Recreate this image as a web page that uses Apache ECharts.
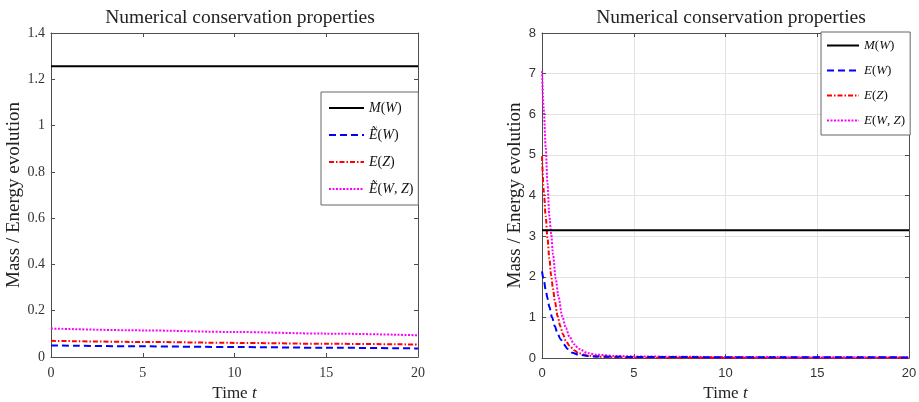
<!DOCTYPE html>
<html><head><meta charset="utf-8">
<script src="https://cdn.jsdelivr.net/npm/echarts@6/dist/echarts.min.js"></script>
<style>html,body{margin:0;padding:0;background:#fff}#c{width:919px;height:402px}</style>
</head><body><div id="c"></div>
<script>
// ---------- data ----------
const titleText = 'Numerical conservation properties';
const yName = 'Mass / Energy evolution';

// Left panel
const leftT    = [0, 5, 10, 15, 20];
const leftMass = [1.2566, 1.2566, 1.2566, 1.2566, 1.2566];
const leftEW   = [0.050, 0.046, 0.043, 0.040, 0.037];
const leftEZ   = [0.070, 0.065, 0.061, 0.057, 0.054];
const leftEWZ  = [0.123, 0.115, 0.108, 0.101, 0.094];
const leftLabels = ['{i|M}({i|W})', '{i|Ẽ}({i|W})', '{i|E}({i|Z})', '{i|Ẽ}({i|W}, {i|Z})'];

// Right panel
const rightMassT = [0, 20];
const rightMass  = [3.1416, 3.1416];
const rightEWT = [0, 0.1, 0.2, 0.3, 0.4, 0.55, 0.7, 0.85, 1.0, 1.2, 1.4, 1.65, 2.0, 2.5, 3, 4, 5, 10, 20];
const rightEW  = [2.13, 1.92, 1.68, 1.47, 1.26, 1.0, 0.78, 0.6, 0.47, 0.33, 0.22, 0.13, 0.08, 0.05, 0.04, 0.03, 0.025, 0.02, 0.015];
const rightEZT = [0, 0.1, 0.2, 0.3, 0.4, 0.5, 0.6, 0.7, 0.85, 1.0, 1.15, 1.3, 1.5, 1.75, 2.0, 2.5, 3, 4, 5, 10, 20];
const rightEZ  = [4.97, 4.1, 3.5, 2.95, 2.45, 2.03, 1.7, 1.4, 1.03, 0.78, 0.58, 0.42, 0.3, 0.19, 0.12, 0.06, 0.035, 0.015, 0.01, 0.005, 0.005];
const rightEWZT = [0, 0.1, 0.2, 0.3, 0.4, 0.5, 0.6, 0.75, 0.9, 1.1, 1.3, 1.5, 1.75, 2.0, 2.5, 3, 4, 5, 7.5, 10, 15, 20];
const rightEWZ  = [7.06, 6.1, 5.2, 4.3, 3.5, 3.05, 2.55, 1.95, 1.5, 1.03, 0.74, 0.52, 0.34, 0.23, 0.12, 0.08, 0.05, 0.04, 0.03, 0.025, 0.02, 0.02];
const rightLabels = ['{i|M}({i|W})', '{i|E}({i|W})', '{i|E}({i|Z})', '{i|E}({i|W}, {i|Z})'];

// ---------- helpers ----------
const zip = (t, v) => t.map((x, i) => [x, v[i]]);
const SERIF = 'Liberation Serif';
const SANS = 'Liberation Sans';
const AX = '#4d4d4d';
const styles = [
  {color: '#000000', type: 'solid'},
  {color: '#0000ff', type: [7, 4]},
  {color: '#ff0000', type: [5, 2, 1.5, 2]},
  {color: '#ff00ff', type: [2, 1.5]}
];
function mk(name, data, k, xi, yi) {
  return {
    name, type: 'line', data, xAxisIndex: xi, yAxisIndex: yi,
    showSymbol: false, symbol: 'circle', smooth: 0.3, smoothMonotone: 'x',
    lineStyle: {width: 2, color: styles[k].color, type: styles[k].type},
    itemStyle: {color: styles[k].color}, z: 3 + (3 - k)
  };
}
const richI = (size) => ({i: {fontFamily: SERIF, fontStyle: 'italic', fontSize: size, color: '#111'}});

function mainX(grid, labelFont, labelSize, split) {
  return {
    type: 'value', gridIndex: grid, min: 0, max: 20, interval: 5, position: 'bottom',
    name: 'Time {i|t}', nameLocation: 'middle', nameGap: 27,
    nameTextStyle: {fontFamily: SERIF, fontSize: 17, color: '#222', rich: {i: {fontFamily: SERIF, fontStyle: 'italic', fontSize: 17, color: '#222'}}},
    axisLine: {show: true, lineStyle: {color: AX, width: 1}},
    axisTick: {show: true, inside: true, length: 4, lineStyle: {color: AX}},
    axisLabel: {fontFamily: labelFont, fontSize: labelSize, color: '#333', margin: 9},
    splitLine: {show: split, lineStyle: {color: '#e3e3e3', width: 1}}
  };
}
function mainY(grid, max, interval, labelFont, labelSize, split, gap) {
  return {
    type: 'value', gridIndex: grid, min: 0, max, interval, position: 'left',
    name: yName, nameLocation: 'middle', nameGap: gap,
    nameTextStyle: {fontFamily: SERIF, fontSize: 19, color: '#222'},
    axisLine: {show: true, lineStyle: {color: AX, width: 1}},
    axisTick: {show: true, inside: true, length: 4, lineStyle: {color: AX}},
    axisLabel: {fontFamily: labelFont, fontSize: labelSize, color: '#333', margin: 6},
    splitLine: {show: split, lineStyle: {color: '#e3e3e3', width: 1}}
  };
}
function mirrorX(grid) {
  return {type: 'value', gridIndex: grid, min: 0, max: 20, interval: 5, position: 'top',
    axisLine: {show: true, onZero: false, lineStyle: {color: AX, width: 1}},
    axisTick: {show: true, inside: true, length: 4, lineStyle: {color: AX}},
    axisLabel: {show: false}, splitLine: {show: false}};
}
function mirrorY(grid, max, interval) {
  return {type: 'value', gridIndex: grid, min: 0, max, interval, position: 'right',
    axisLine: {show: true, onZero: false, lineStyle: {color: AX, width: 1}},
    axisTick: {show: true, inside: true, length: 4, lineStyle: {color: AX}},
    axisLabel: {show: false}, splitLine: {show: false}};
}

const chart = echarts.init(document.getElementById('c'), null, {renderer: 'canvas'});
chart.setOption({
  backgroundColor: '#ffffff',
  animation: false,
  title: [
    {text: titleText, left: 235, top: 3, textAlign: 'center',
     textStyle: {fontFamily: SERIF, fontSize: 19.5, fontWeight: 'normal', color: '#222'}},
    {text: titleText, left: 726, top: 3, textAlign: 'center',
     textStyle: {fontFamily: SERIF, fontSize: 19.5, fontWeight: 'normal', color: '#222'}}
  ],
  grid: [
    {left: 51, right: 501, top: 33, bottom: 45, containLabel: false, outerBoundsMode: 'none'},
    {left: 542, right: 10, top: 33, bottom: 44, containLabel: false, outerBoundsMode: 'none'}
  ],
  xAxis: [mainX(0, SERIF, 14, false), mainX(1, SANS, 13, true), mirrorX(0), mirrorX(1)],
  yAxis: [mainY(0, 1.4, 0.2, SERIF, 14, false, 24), mainY(1, 8, 1, SANS, 13, true, 16), mirrorY(0, 1.4, 0.2), mirrorY(1, 8, 1)],
  legend: [
    {data: ['a1', 'a2', 'a3', 'a4'], orient: 'vertical', left: 321, top: 92,
     itemWidth: 35, itemHeight: 14, itemGap: 13, padding: [9, 5, 9, 7],
     backgroundColor: '#fff', borderColor: '#666', borderWidth: 1, borderRadius: 0,
     itemStyle: {opacity: 0},
     formatter: n => leftLabels[Number(n[1]) - 1],
     textStyle: {fontFamily: SERIF, fontSize: 14, color: '#111', rich: richI(14)}},
    {data: ['b1', 'b2', 'b3', 'b4'], orient: 'vertical', left: 821, top: 32,
     itemWidth: 32, itemHeight: 14, itemGap: 12, padding: [7, 5, 8, 5],
     backgroundColor: '#fff', borderColor: '#666', borderWidth: 1, borderRadius: 0,
     itemStyle: {opacity: 0},
     formatter: n => rightLabels[Number(n[1]) - 1],
     textStyle: {fontFamily: SERIF, fontSize: 13, color: '#111', rich: richI(13)}}
  ],
  series: [
    mk('a1', zip(leftT, leftMass), 0, 0, 0),
    mk('a2', zip(leftT, leftEW), 1, 0, 0),
    mk('a3', zip(leftT, leftEZ), 2, 0, 0),
    mk('a4', zip(leftT, leftEWZ), 3, 0, 0),
    mk('b1', zip(rightMassT, rightMass), 0, 1, 1),
    mk('b2', zip(rightEWT, rightEW), 1, 1, 1),
    mk('b3', zip(rightEZT, rightEZ), 2, 1, 1),
    mk('b4', zip(rightEWZT, rightEWZ), 3, 1, 1)
  ]
});
</script>
</body></html>
